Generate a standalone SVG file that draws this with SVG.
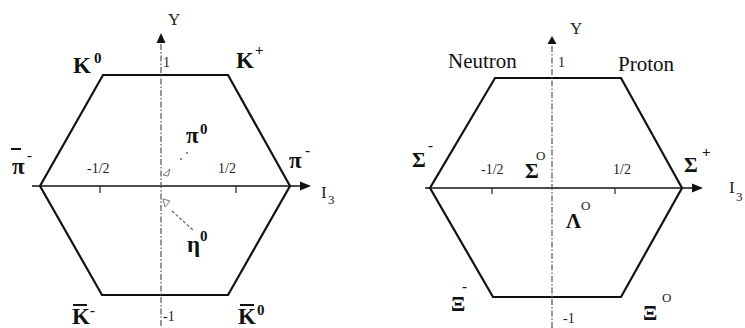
<svg xmlns="http://www.w3.org/2000/svg" width="745" height="328" viewBox="0 0 745 328">
<defs>
<style>
.hex{fill:none;stroke:#111;stroke-width:2.2;stroke-linejoin:miter}
.ax{stroke:#111;stroke-width:1.6;fill:none}
.yax{stroke:#555;stroke-width:1.2;stroke-dasharray:6 2 1.5 2;fill:none}
.tk{stroke:#222;stroke-width:1.2}
.ah{fill:#111}
.lb{font-family:"Liberation Serif","Times New Roman",serif;font-weight:bold;fill:#111}
.nm{font-family:"Liberation Serif","Times New Roman",serif;font-weight:normal;fill:#111;font-size:21px}
.big{font-size:23px}
.mid{font-size:21px}
.sup{font-size:15px}
.sm{font-family:"Liberation Serif","Times New Roman",serif;font-size:14px;fill:#222}
.ax-l{font-family:"Liberation Serif","Times New Roman",serif;font-size:17px;fill:#222}
.sub{font-family:"Liberation Serif","Times New Roman",serif;font-size:13px;fill:#222}
.bar{stroke:#111;stroke-width:2}
</style>
</defs>
<rect width="745" height="328" fill="#fff"/>

<g id="meson-octet">
  <polygon class="hex" points="103,75 228,75 290,186 228,295 102,295 40,186"/>
  <g id="meson-axes">
    <line class="ax" x1="32" y1="186" x2="302" y2="186"/>
    <polygon class="ah" points="311,186 300,181.5 300,190.5"/>
    <line class="yax" x1="161" y1="44" x2="161" y2="328"/>
    <polygon class="ah" points="161,33 156.5,43 165.5,43"/>
    <line class="tk" x1="100" y1="186" x2="100" y2="193"/>
    <line class="tk" x1="236" y1="186" x2="236" y2="193"/>
    <text class="ax-l" x="168" y="25" font-size="16">Y</text>
    <text class="sm" x="163" y="67">1</text>
    <text class="sm" x="163" y="321">-1</text>
    <text class="sm" x="87" y="173">-1/2</text>
    <text class="sm" x="218" y="173">1/2</text>
    <text class="ax-l" x="321" y="198">I</text>
    <text class="sub" x="328" y="204">3</text>
  </g>
  <g id="K0"><text class="lb big" x="73" y="73">K</text><text class="lb sup" x="94" y="63">0</text></g>
  <g id="Kplus"><text class="lb big" x="236" y="68">K</text><text class="lb sup" x="255" y="55">+</text></g>
  <g id="antipi-minus"><line class="bar" x1="11" y1="149" x2="21" y2="149"/><text class="lb big" x="12" y="174">π</text><text class="lb sup" x="27" y="160">-</text></g>
  <g id="pi-minus"><text class="lb big" x="289" y="168">π</text><text class="lb sup" x="305" y="155">-</text></g>
  <g id="pi0">
    <text class="lb big" x="186" y="143">π</text><text class="lb sup" x="200" y="134">0</text>
    <circle cx="187" cy="153" r="1" fill="#666"/><circle cx="181" cy="159" r="1" fill="#666"/>
    <path d="M163,175 L170,169 L168,176 Z" fill="none" stroke="#777" stroke-width="1"/>
  </g>
  <g id="eta0">
    <path d="M163,199 L170,201 L165,207 Z" fill="none" stroke="#777" stroke-width="1"/>
    <line x1="172" y1="211" x2="193" y2="230" stroke="#666" stroke-width="1.2" stroke-dasharray="3 2"/>
    <text class="lb big" x="187" y="252">η</text><text class="lb sup" x="200" y="241">0</text>
  </g>
  <g id="antiK-minus"><line class="bar" x1="73" y1="305" x2="87" y2="305"/><text class="lb big" x="72" y="324">K</text><text class="lb sup" x="90" y="315">-</text></g>
  <g id="antiK0"><line class="bar" x1="240" y1="305" x2="254" y2="305"/><text class="lb big" x="238" y="324">K</text><text class="lb sup" x="257" y="315">0</text></g>
</g>

<g id="baryon-octet">
  <polygon class="hex" points="495,78 621,78 682,188 621,297 493,297 430,188"/>
  <g id="baryon-axes">
    <line class="ax" x1="425" y1="188" x2="693" y2="188"/>
    <polygon class="ah" points="703,188 692,183.5 692,192.5"/>
    <line class="yax" x1="552" y1="46" x2="552" y2="328"/>
    <polygon class="ah" points="552,36 547.5,44 556.5,44"/>
    <line class="tk" x1="492" y1="188" x2="492" y2="194"/>
    <line class="tk" x1="615" y1="188" x2="615" y2="194"/>
    <text class="ax-l" x="570" y="34" font-size="16">Y</text>
    <text class="sm" x="558" y="67">1</text>
    <text class="sm" x="563" y="323">-1</text>
    <text class="sm" x="481" y="174">-1/2</text>
    <text class="sm" x="613" y="174">1/2</text>
    <text class="ax-l" x="729" y="193">I</text>
    <text class="sub" x="736" y="201">3</text>
  </g>
  <g id="neutron"><text class="nm" x="448" y="68">Neutron</text></g>
  <g id="proton"><text class="nm" x="618" y="71">Proton</text></g>
  <g id="sigma-minus"><text class="lb mid" x="412" y="167">Σ</text><text class="lb sup" x="428" y="150" font-size="13">-</text></g>
  <g id="sigma-plus"><text class="lb mid" x="684" y="172">Σ</text><text class="lb sup" x="702" y="157" font-size="17">+</text></g>
  <g id="sigma0"><text class="lb mid" x="525" y="178">Σ</text><text class="sub" x="536" y="160" font-size="12">O</text></g>
  <g id="lambda0"><text class="lb mid" x="566" y="228">Λ</text><text class="sub" x="581" y="210">O</text></g>
  <g id="xi-minus"><text class="lb mid" x="451" y="311">Ξ</text><text class="lb sup" x="462" y="291" font-size="13">-</text></g>
  <g id="xi0"><text class="lb mid" x="643" y="320">Ξ</text><text class="sub" x="662" y="302">O</text></g>
</g>
</svg>
